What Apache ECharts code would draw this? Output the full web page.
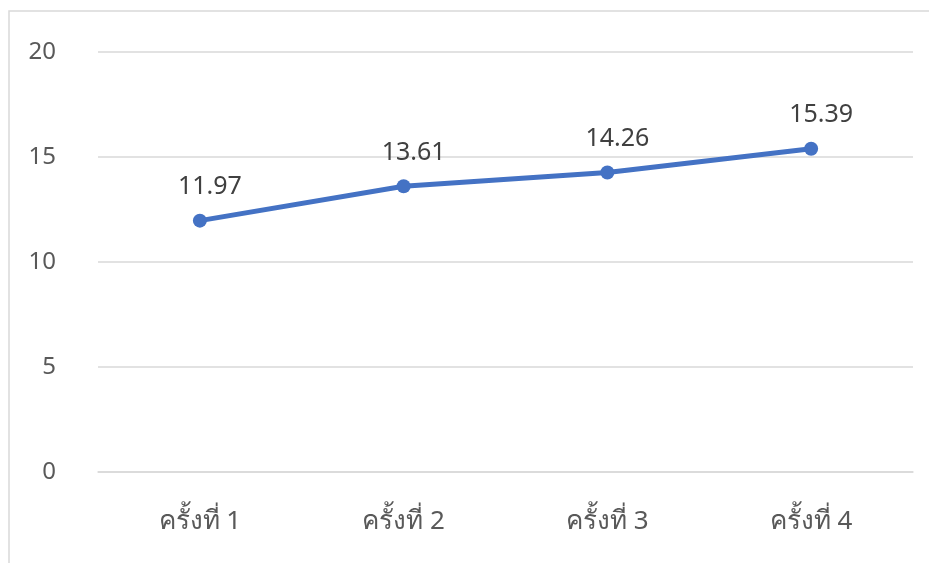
<!DOCTYPE html>
<html><head><meta charset="utf-8">
<script src="https://cdn.jsdelivr.net/npm/echarts@6/dist/echarts.min.js"></script>
<style>html,body{margin:0;padding:0;background:#fff;}#c{width:929px;height:563px;}</style>
</head><body><div id="c"></div>
<script>
const categories = ['ครั้งที่ 1', 'ครั้งที่ 2', 'ครั้งที่ 3', 'ครั้งที่ 4'];
const values = [11.97, 13.61, 14.26, 15.39];
const yTicks = [0, 5, 10, 15, 20];

const chart = echarts.init(document.getElementById('c'), null, {renderer: 'canvas'});
chart.setOption({
  animation: false,
  backgroundColor: '#fff',
  graphic: [{
    type: 'rect', shape: {x: 9, y: 11, width: 960, height: 600},
    style: {fill: 'none', stroke: '#d9d9d9', lineWidth: 1.5}, silent: true, z: -1
  }],
  grid: {left: 98, right: 16, top: 52, bottom: 91, containLabel: false},
  xAxis: {
    type: 'category', data: categories, boundaryGap: true,
    axisLine: {show: true, lineStyle: {color: '#d9d9d9', width: 1.5}},
    axisTick: {show: false},
    axisLabel: {color: '#595959', fontSize: 26, margin: 37, fontFamily: 'Noto Sans, sans-serif'}
  },
  yAxis: {
    type: 'value', min: yTicks[0], max: yTicks[yTicks.length - 1], interval: 5,
    axisLine: {show: false}, axisTick: {show: false},
    splitLine: {lineStyle: {color: '#d9d9d9', width: 1.5}},
    axisLabel: {color: '#595959', fontSize: 24, margin: 42, padding: [0, 0, 8, 0],
      fontFamily: 'Noto Sans, sans-serif'}
  },
  series: [{
    type: 'line', data: values,
    lineStyle: {color: '#4472C4', width: 5},
    itemStyle: {color: '#4472C4'},
    symbol: 'circle', symbolSize: 14,
    label: {show: true, position: 'top', distance: 14, offset: [10, 0], color: '#404040', fontSize: 25,
      fontFamily: 'Noto Sans, sans-serif', formatter: p => p.value.toFixed(2)}
  }]
});
</script></body></html>
